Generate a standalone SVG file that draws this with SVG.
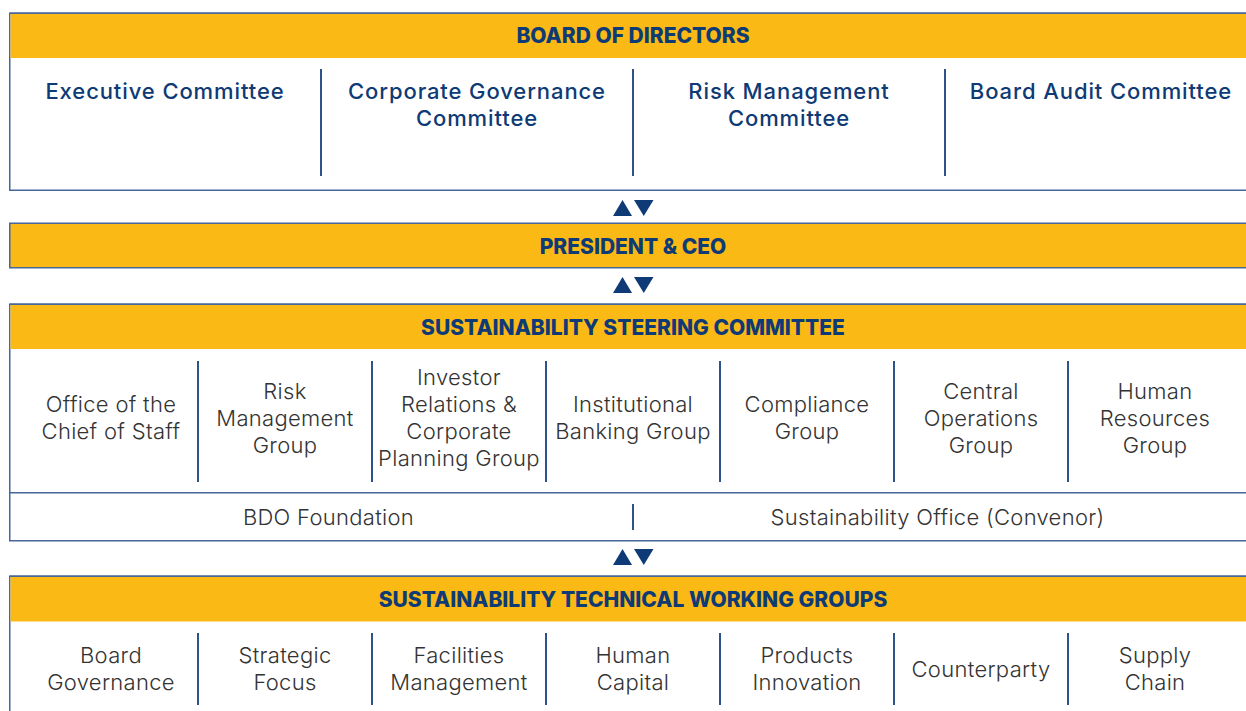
<svg xmlns="http://www.w3.org/2000/svg" width="1246" height="711" viewBox="0 0 1246 711">
<style>
.box{fill:#fff;stroke:#46679A;stroke-width:1.5}
.band{fill:#FBB916}
.div{stroke:#2E5388;stroke-width:2}
.hline{stroke:#46679A;stroke-width:1.5}
.hdr{font-family:Inter,"Liberation Sans",sans-serif;font-weight:800;font-size:21px;fill:#0E3A75;text-anchor:middle}
.com{font-family:Inter,"Liberation Sans",sans-serif;font-weight:500;font-size:22px;fill:#0E3A75;text-anchor:middle;letter-spacing:0.9px}
.txt{font-family:Inter,"Liberation Sans",sans-serif;font-weight:300;font-size:22px;fill:#333;text-anchor:middle;letter-spacing:0.3px}
.tri{fill:#0E3A75}
</style>
<rect width="1246" height="711" fill="#fff"/>

<g id="board">
<rect class="box" x="9.75" y="13.25" width="1260" height="177"/>
<rect class="band" x="10.5" y="14" width="1260" height="44"/>
<line class="hline" x1="9.75" y1="13.25" x2="1246" y2="13.25"/>
<text class="hdr" x="633" y="43">BOARD OF DIRECTORS</text>
<line class="div" x1="321" y1="69" x2="321" y2="176"/>
<line class="div" x1="633" y1="69" x2="633" y2="176"/>
<line class="div" x1="945" y1="69" x2="945" y2="176"/>
<text class="com" x="165" y="99">Executive Committee</text>
<text class="com" x="477" y="99">Corporate Governance</text>
<text class="com" x="477" y="126">Committee</text>
<text class="com" x="789" y="99">Risk Management</text>
<text class="com" x="789" y="126">Committee</text>
<text class="com" x="1101" y="99">Board Audit Committee</text>
</g>

<g id="president">
<rect class="band" x="9.75" y="223.25" width="1260" height="44.5" stroke="#46679A" stroke-width="1.5"/>
<text class="hdr" x="633" y="254">PRESIDENT &amp; CEO</text>
</g>

<g id="steering">
<rect class="box" x="9.75" y="304.25" width="1260" height="236.5"/>
<rect class="band" x="10.5" y="305" width="1260" height="44"/>
<line class="hline" x1="9.75" y1="304.25" x2="1246" y2="304.25"/>
<text class="hdr" x="633" y="335">SUSTAINABILITY STEERING COMMITTEE</text>
<line class="div" x1="198" y1="361" x2="198" y2="482"/>
<line class="div" x1="372" y1="361" x2="372" y2="482"/>
<line class="div" x1="546" y1="361" x2="546" y2="482"/>
<line class="div" x1="720" y1="361" x2="720" y2="482"/>
<line class="div" x1="894" y1="361" x2="894" y2="482"/>
<line class="div" x1="1068" y1="361" x2="1068" y2="482"/>
<text class="txt" x="111" y="412">Office of the</text>
<text class="txt" x="111" y="439">Chief of Staff</text>
<text class="txt" x="285" y="399">Risk</text>
<text class="txt" x="285" y="426">Management</text>
<text class="txt" x="285" y="453">Group</text>
<text class="txt" x="459" y="385">Investor</text>
<text class="txt" x="459" y="412">Relations &amp;</text>
<text class="txt" x="459" y="439">Corporate</text>
<text class="txt" x="459" y="466">Planning Group</text>
<text class="txt" x="633" y="412">Institutional</text>
<text class="txt" x="633" y="439">Banking Group</text>
<text class="txt" x="807" y="412">Compliance</text>
<text class="txt" x="807" y="439">Group</text>
<text class="txt" x="981" y="399">Central</text>
<text class="txt" x="981" y="426">Operations</text>
<text class="txt" x="981" y="453">Group</text>
<text class="txt" x="1155" y="399">Human</text>
<text class="txt" x="1155" y="426">Resources</text>
<text class="txt" x="1155" y="453">Group</text>
<line class="hline" x1="9.75" y1="492.75" x2="1246" y2="492.75"/>
<line class="div" x1="633" y1="504" x2="633" y2="530"/>
<text class="txt" x="328.5" y="525">BDO Foundation</text>
<text class="txt" x="937.5" y="525">Sustainability Office (Convenor)</text>
</g>

<g id="technical">
<rect class="box" x="9.75" y="576.25" width="1260" height="160"/>
<rect class="band" x="10.5" y="577" width="1260" height="44.5"/>
<line class="hline" x1="9.75" y1="576.25" x2="1246" y2="576.25"/>
<text class="hdr" x="633" y="607">SUSTAINABILITY TECHNICAL WORKING GROUPS</text>
<line class="div" x1="198" y1="633" x2="198" y2="705"/>
<line class="div" x1="372" y1="633" x2="372" y2="705"/>
<line class="div" x1="546" y1="633" x2="546" y2="705"/>
<line class="div" x1="720" y1="633" x2="720" y2="705"/>
<line class="div" x1="894" y1="633" x2="894" y2="705"/>
<line class="div" x1="1068" y1="633" x2="1068" y2="705"/>
<text class="txt" x="111" y="663">Board</text>
<text class="txt" x="111" y="690">Governance</text>
<text class="txt" x="285" y="663">Strategic</text>
<text class="txt" x="285" y="690">Focus</text>
<text class="txt" x="459" y="663">Facilities</text>
<text class="txt" x="459" y="690">Management</text>
<text class="txt" x="633" y="663">Human</text>
<text class="txt" x="633" y="690">Capital</text>
<text class="txt" x="807" y="663">Products</text>
<text class="txt" x="807" y="690">Innovation</text>
<text class="txt" x="981" y="677">Counterparty</text>
<text class="txt" x="1155" y="663">Supply</text>
<text class="txt" x="1155" y="690">Chain</text>
</g>

<g id="connectors">
<polygon class="tri" points="613,216 622.5,200 632,216"/>
<polygon class="tri" points="634,200 653.5,200 643.75,216"/>
<polygon class="tri" points="613,293 622.5,277 632,293"/>
<polygon class="tri" points="634,277 653.5,277 643.75,293"/>
<polygon class="tri" points="613,565 622.5,549 632,565"/>
<polygon class="tri" points="634,549 653.5,549 643.75,565"/>
</g>
</svg>
